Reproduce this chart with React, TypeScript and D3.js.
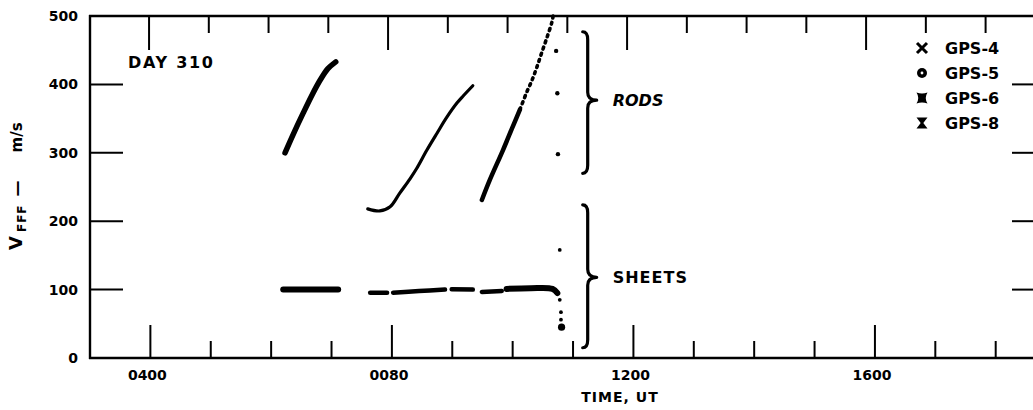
import React from "react";
import * as d3 from "d3";

// Figure size
const W = 1033;
const H = 410;

// Axis values (time in hours UT, speed in m/s)
const majorHours = [4, 8, 12, 16];
const minorHours = [5, 6, 7, 9, 10, 11, 13, 14, 15, 17, 18];
const hourLabels = ["0400", "0080", "1200", "1600"];
const speedTicks = [0, 100, 200, 300, 400, 500];
const innerSpeedTicks = [100, 200, 300, 400];

// Rod traces [hour, speed]
const rodsA: [number, number][] = [
  [6.23, 300], [6.36, 326], [6.53, 358], [6.68, 385], [6.81, 406], [6.94, 423], [7.07, 433],
];
const rodsB: [number, number][] = [
  [7.6, 218], [7.8, 215], [7.97, 221], [8.13, 241], [8.3, 262], [8.41, 277], [8.58, 304],
  [8.75, 329], [8.91, 352], [9.08, 373], [9.18, 383], [9.34, 398],
];
const rodsCSolid: [number, number][] = [
  [9.49, 231], [9.62, 260], [9.84, 304], [10.0, 338], [10.12, 363],
];
const rodsCBroken: [number, number][] = [
  [10.12, 363], [10.23, 388], [10.32, 406], [10.4, 425], [10.48, 446], [10.57, 469], [10.65, 491], [10.67, 500],
];
const rodsScatter: [number, number][] = [
  [10.72, 449], [10.74, 387], [10.75, 298],
];

// Sheet traces
const sheetsA: [number, number][] = [[6.2, 100], [7.11, 100]];
const sheetsB: [number, number][][] = [
  [[7.64, 95.5], [7.92, 95.5]],
  [[8.02, 95.5], [8.45, 98], [8.88, 100]],
  [[8.99, 100.5], [9.34, 100]],
  [[9.49, 96.5], [9.82, 98]],
  [[9.9, 101], [10.3, 102], [10.66, 101], [10.74, 95]],
];
const sheetsScatter: [number, number][] = [
  [10.78, 158], [10.78, 85], [10.8, 67], [10.8, 56], [10.81, 45],
];

// Groupings marked with braces: [low, tip, high] in m/s
const groupNames = ["RODS", "SHEETS"];
const groupRanges: [number, number, number][] = [
  [270, 377, 477],
  [15, 118, 224],
];

const legendNames = ["GPS-4", "GPS-5", "GPS-6", "GPS-8"];

const x = d3.scaleLinear().domain([3, 18.8]).range([90, 1044]);
const xTop = d3.scaleLinear().domain([3, 18.8]).range([89.3, 1033.4]);
const y = d3.scaleLinear().domain([0, 500]).range([358, 16]);

const smooth = d3
  .line<[number, number]>()
  .x((d) => x(d[0]))
  .y((d) => y(d[1]))
  .curve(d3.curveCatmullRom.alpha(0.5));

const font = "'DejaVu Sans', sans-serif";

function bracePath(x0: number, yTop: number, yTip: number, yBot: number, w: number) {
  const s = 5;
  const r = 8;
  return [
    `M${x0},${yTop}`,
    `Q${x0 + s},${yTop} ${x0 + s},${yTop + r}`,
    `L${x0 + s},${yTip - r}`,
    `Q${x0 + s},${yTip} ${x0 + w},${yTip}`,
    `Q${x0 + s},${yTip} ${x0 + s},${yTip + r}`,
    `L${x0 + s},${yBot - r}`,
    `Q${x0 + s},${yBot} ${x0},${yBot}`,
  ].join(" ");
}

const legendGlyphs = [
  "M-5,-5L5,5M5,-5L-5,5",
  "",
  "M-5.5,-5.5Q0,-3.5 5.5,-5.5Q2,0 5.5,5.5Q0,3.5 -5.5,5.5Q-2,0 -5.5,-5.5Z",
  "M-5.5,-5.5L5.5,-5.5L1.3,0L5.5,5.5L-5.5,5.5L-1.3,0Z",
];

function tickLine(key: string, x1: number, y1: number, x2: number, y2: number) {
  return <line key={key} x1={x1} y1={y1} x2={x2} y2={y2} stroke="#000" strokeWidth={2} />;
}

export default function App() {
  const braceX = x(11.16);
  return (
    <svg
      width={W}
      height={H}
      viewBox={`0 0 ${W} ${H}`}
      style={{ position: "absolute", left: 0, top: 0, background: "#fff" }}
    >
      <rect width={W} height={H} fill="#fff" />

      {/* frame */}
      <g stroke="#000" strokeWidth={2.4} fill="none">
        <line x1={90} x2={90} y1={15} y2={359} />
        <line x1={89} x2={1044} y1={358} y2={358} />
        <line x1={89} x2={1044} y1={16} y2={16} />
        <line x1={1044} x2={1044} y1={16} y2={358} />
      </g>

      {/* hour ticks, bottom and top */}
      {majorHours.map((h) => tickLine(`bM${h}`, x(h), 358, x(h), 325))}
      {minorHours.map((h) => tickLine(`bm${h}`, x(h), 358, x(h), 341))}
      {majorHours.map((h) => tickLine(`tM${h}`, xTop(h), 16, xTop(h), 50))}
      {minorHours.map((h) => tickLine(`tm${h}`, xTop(h), 16, xTop(h), 33))}

      {/* speed ticks, left and right */}
      {innerSpeedTicks.map((v) => tickLine(`l${v}`, 90, y(v), 123, y(v)))}
      {innerSpeedTicks.map((v) => tickLine(`r${v}`, 1044, y(v), 1012, y(v)))}

      {/* tick labels */}
      <g fontFamily={font} fontWeight="bold" fontSize={14} fill="#000">
        {speedTicks.map((v) => (
          <text key={v} x={78} y={y(v)} dy="0.36em" textAnchor="end">
            {v}
          </text>
        ))}
        {majorHours.map((h, i) => (
          <text key={h} x={x(h) - 3} y={380} textAnchor="middle">
            {hourLabels[i]}
          </text>
        ))}
        <text x={620} y={402} textAnchor="middle" letterSpacing={1}>
          TIME, UT
        </text>
      </g>

      {/* y-axis title */}
      <text transform="translate(22,250) rotate(-90)" fontFamily={font} fill="#000">
        <tspan fontSize={18} fontWeight="bold">V</tspan>
        <tspan fontSize={12} fontWeight="bold" dx={4} dy={4} letterSpacing={1}>FFF</tspan>
        <tspan fontSize={16} fontWeight="bold" dx={8} dy={-4}>—</tspan>
        <tspan fontSize={15} fontWeight="bold" dx={28}>m/s</tspan>
      </text>

      <text x={128} y={68} fontFamily={font} fontWeight="bold" fontSize={16} textLength={85} lengthAdjust="spacing">
        DAY 310
      </text>

      {/* rods */}
      <g fill="none" stroke="#000" strokeLinecap="round" strokeLinejoin="round">
        <path d={smooth(rodsA) ?? ""} strokeWidth={5.5} />
        <path d={smooth(rodsB) ?? ""} strokeWidth={3.2} />
        <path d={smooth(rodsCSolid) ?? ""} strokeWidth={4.5} />
        <path d={smooth(rodsCBroken) ?? ""} strokeWidth={3.6} strokeDasharray="2 4.5" />
      </g>
      {rodsScatter.map((d, i) => (
        <circle key={i} cx={x(d[0])} cy={y(d[1])} r={2.2} fill="#000" />
      ))}

      {/* sheets */}
      <g fill="none" stroke="#000" strokeLinecap="round" strokeLinejoin="round">
        <path d={smooth(sheetsA) ?? ""} strokeWidth={6} />
        {sheetsB.map((seg, i) => (
          <path key={i} d={smooth(seg) ?? ""} strokeWidth={i === sheetsB.length - 1 ? 6 : 4.5} />
        ))}
      </g>
      {sheetsScatter.map((d, i) => (
        <circle
          key={i}
          cx={x(d[0])}
          cy={y(d[1])}
          r={i === sheetsScatter.length - 1 ? 3.6 : 1.9}
          fill="#000"
        />
      ))}

      {/* braces */}
      {groupNames.map((name, i) => {
        const [lo, tip, hi] = groupRanges[i];
        return (
          <g key={name}>
            <path
              d={bracePath(braceX, y(hi), y(tip), y(lo), 14)}
              fill="none"
              stroke="#000"
              strokeWidth={3.2}
              strokeLinecap="round"
              strokeLinejoin="round"
            />
            <text
              x={braceX + 30}
              y={y(tip)}
              dy="0.36em"
              fontFamily={font}
              fontWeight="bold"
              fontStyle={i === 0 ? "italic" : "normal"}
              fontSize={16}
              letterSpacing={i === 0 ? 0 : 1}
            >
              {name}
            </text>
          </g>
        );
      })}

      {/* legend */}
      <g fontFamily={font} fontWeight="bold" fontSize={16}>
        {legendNames.map((name, i) => {
          const cy = 48 + i * 25;
          return (
            <g key={name}>
              <g transform={`translate(922,${cy})`}>
                {i === 0 && <path d={legendGlyphs[0]} stroke="#000" strokeWidth={3} />}
                {i === 1 && (
                  <>
                    <circle r={5} fill="#000" />
                    <circle r={1.4} fill="#fff" />
                  </>
                )}
                {i >= 2 && <path d={legendGlyphs[i]} fill="#000" />}
              </g>
              <text x={945} y={cy} dy="0.36em">
                {name}
              </text>
            </g>
          );
        })}
      </g>
    </svg>
  );
}
